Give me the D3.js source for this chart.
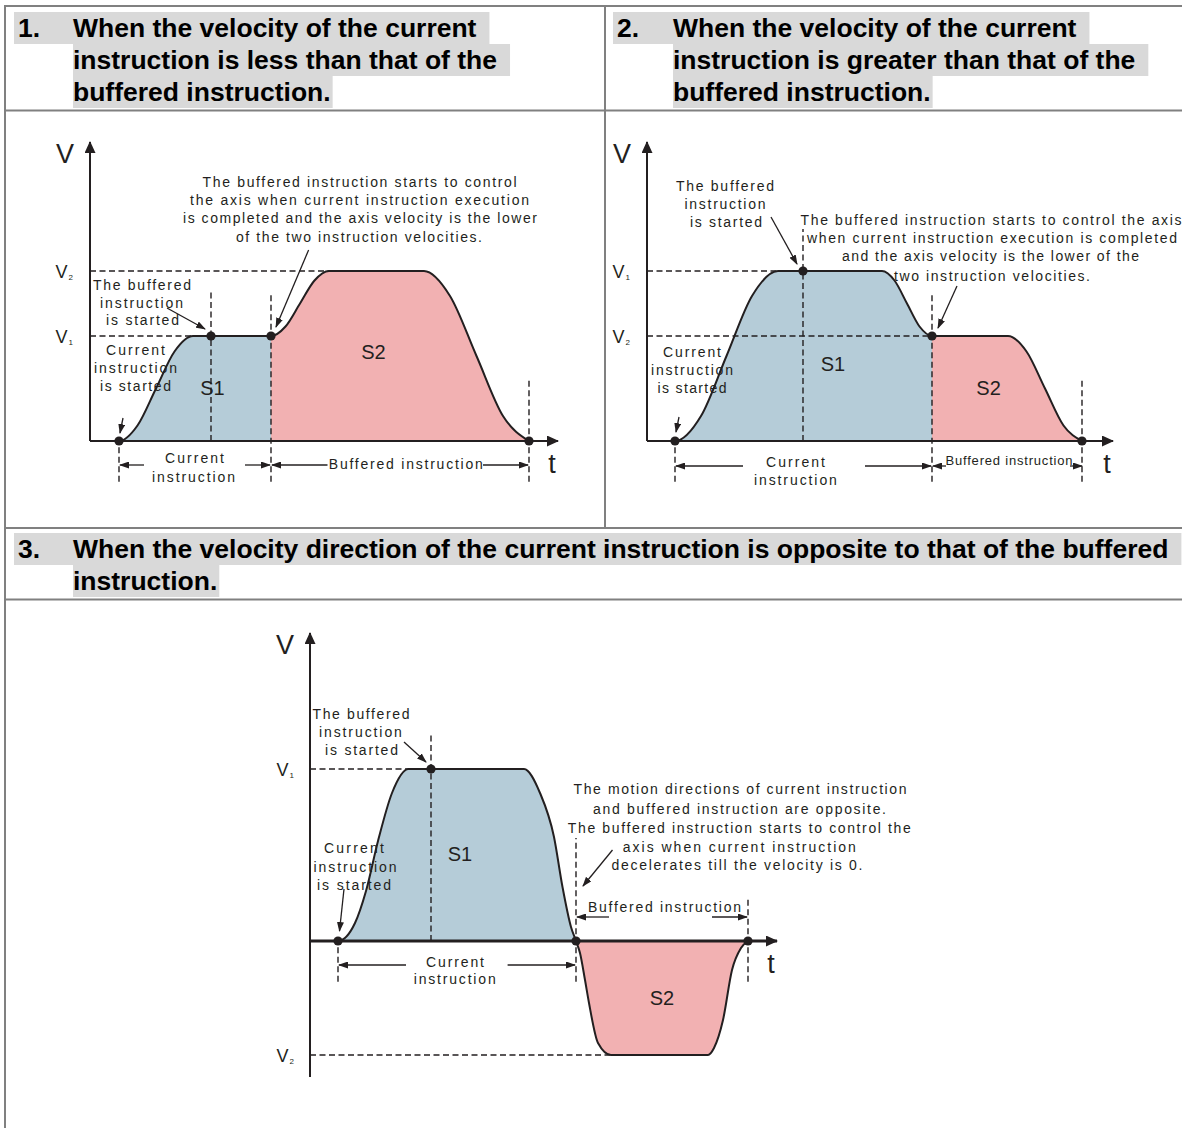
<!DOCTYPE html>
<html><head><meta charset="utf-8">
<script src="https://cdn.jsdelivr.net/npm/d3@7"></script>
<style>html,body{margin:0;padding:0;background:#fff;} svg{display:block;}</style>
</head><body>
<svg id="chart" width="1182" height="1128"></svg>
<script>
// ---------------- data ----------------
const headerNums = ["1.", "2.", "3."];
const header1 = ["When the velocity of the current", "instruction is less than that of the", "buffered instruction."];
const header2 = ["When the velocity of the current", "instruction is greater than that of the", "buffered instruction."];
const header3 = ["When the velocity direction of the current instruction is opposite to that of the buffered", "instruction."];

// Panel 1: current slower than buffered
const p1Time = [0, 2.9, 4.75, 6.6, 8.45, 10.3, 12.1, 18.1, 19.55, 21.0, 22.45, 23.9, 33.4, 36.0, 38.65, 41.3, 43.9];
const p1Vel  = [0, 0, 1.55, 5.25, 8.95, 10.5, 10.5, 10.5, 11.45, 13.75, 16.05, 17.0, 17.0, 14.5, 8.5, 2.5, 0];
const p1Levels = [10.5, 17.0];
const p1LevelNames = ["1", "2"];
const p1LevelReachIdx = [5, 11];
const p1DotIdx = [1, 6, 7, 16];
const p1SwitchIdx = 7;

// Panel 2: current faster than buffered
const p2Time = [0, 2.8, 5.4, 7.95, 10.5, 13.1, 15.6, 23.5, 24.75, 26.0, 27.25, 28.5, 36.1, 37.95, 39.8, 41.65, 43.5];
const p2Vel  = [0, 0, 2.5, 8.5, 14.5, 17.0, 17.0, 17.0, 16.05, 13.75, 11.45, 10.5, 10.5, 8.95, 5.25, 1.55, 0];
const p2Levels = [17.0, 10.5];
const p2LevelNames = ["1", "2"];
const p2LevelReachIdx = [5, 11];
const p2DotIdx = [1, 6, 11, 16];
const p2SwitchIdx = 11;

// Panel 3: opposite directions
const p3Time = [0, 2.8, 4.5, 5.6, 6.8, 8.2, 9.85, 12.1, 21.4, 23.0, 24.4, 25.25, 26.1, 26.6, 27.0, 27.5, 27.9, 28.8, 30.1, 39.8, 40.4, 41.3, 42.2, 43.1, 43.8];
const p3Vel  = [0, 0, 1.8, 5.0, 10.0, 14.8, 17.2, 17.2, 17.2, 14.8, 10.4, 5.4, 1.4, 0, -1.2, -3.9, -6.2, -10.2, -11.4, -11.4, -10.7, -7.9, -2.9, -0.7, 0];
const p3Levels = [17.2, -11.4];
const p3LevelNames = ["1", "2"];
const p3LevelReachIdx = [6, 18];
const p3DotIdx = [1, 7, 13, 24];
const p3SwitchIdx = 13;

// ---------------- drawing ----------------
const FONT = "'Liberation Sans', Arial, Helvetica, sans-serif";
const INK = "#231f20";
const BLUE = "#b5ccd8";
const PINK = "#f2b1b2";
const BORDER = "#808080";

const svg = d3.select("#chart").attr("font-family", FONT);
svg.append("rect").attr("width", 1182).attr("height", 1128).attr("fill", "#fff");
const defs = svg.append("defs");

function marker(id, w, h) {
  defs.append("marker").attr("id", id)
    .attr("viewBox", `0 0 ${w} ${h}`).attr("refX", w - 1).attr("refY", h / 2)
    .attr("markerWidth", w).attr("markerHeight", h)
    .attr("orient", "auto").attr("markerUnits", "userSpaceOnUse")
    .append("path").attr("d", `M0,0L${w},${h / 2}L0,${h}Z`).attr("fill", INK);
}
marker("axArrow", 12, 11);
marker("arrow", 10, 7);

// table borders
const tb = svg.append("g").attr("stroke", BORDER).attr("stroke-width", 2);
tb.append("line").attr("x1", 5).attr("x2", 5).attr("y1", 5).attr("y2", 1128);
tb.append("line").attr("x1", 4).attr("x2", 1182).attr("y1", 6).attr("y2", 6);
tb.append("line").attr("x1", 4).attr("x2", 1182).attr("y1", 110.5).attr("y2", 110.5);
tb.append("line").attr("x1", 605).attr("x2", 605).attr("y1", 6).attr("y2", 528);
tb.append("line").attr("x1", 4).attr("x2", 1182).attr("y1", 528).attr("y2", 528);
tb.append("line").attr("x1", 4).attr("x2", 1182).attr("y1", 599.5).attr("y2", 599.5);

// headers
function header(num, lines, numX, textX, base0) {
  const g = svg.append("g");
  const bands = g.append("g");
  const texts = g.append("g").attr("font-weight", "bold").attr("font-size", 26.5).attr("fill", "#000");
  texts.append("text").attr("x", numX).attr("y", base0).text(num);
  lines.forEach((s, i) => {
    const t = texts.append("text").attr("x", textX).attr("y", base0 + 32 * i).text(s);
    const w = t.node().getComputedTextLength();
    const last = i === lines.length - 1;
    const left = i === 0 ? numX - 4 : textX;
    bands.append("rect").attr("x", left).attr("y", base0 + 32 * i - 25)
      .attr("width", textX + w + (last ? 2 : 13) - left).attr("height", 32).attr("fill", "#d9d9d9");
  });
}
header(headerNums[0], header1, 18, 73, 37);
header(headerNums[1], header2, 617, 673, 37);
header(headerNums[2], header3, 18, 73, 558);

function drawPanel(cfg) {
  const g = svg.append("g");
  const u = 10;
  const x = d3.scaleLinear().domain([0, cfg.tEnd]).range([cfg.ox, cfg.ox + cfg.tEnd * u]);
  const y = d3.scaleLinear().domain([cfg.vBottom, cfg.vTop]).range([cfg.oy - cfg.vBottom * u, cfg.oy - cfg.vTop * u]);
  const T = cfg.time, V = cfg.vel;
  const idx = d3.range(T.length);
  const area = d3.area().x(i => x(T[i])).y0(y(0)).y1(i => y(V[i])).curve(d3.curveMonotoneX);
  const line = d3.line().x(i => x(T[i])).y(i => y(V[i])).curve(d3.curveMonotoneX);
  const sw = T[cfg.switchIdx];
  [[T[0], sw, BLUE], [sw, T[T.length - 1], PINK]].forEach(([t0, t1, col], k) => {
    const id = cfg.id + "clip" + k;
    defs.append("clipPath").attr("id", id).append("rect")
      .attr("x", x(t0)).attr("width", x(t1) - x(t0))
      .attr("y", y(cfg.vTop)).attr("height", y(cfg.vBottom) - y(cfg.vTop));
    g.append("path").attr("d", area(idx)).attr("fill", col).attr("clip-path", `url(#${id})`);
  });

  // dashed guides
  const dg = g.append("g").attr("stroke", INK).attr("stroke-width", 1.4).attr("stroke-dasharray", "6,3.5");
  cfg.levels.forEach((lv, k) => {
    dg.append("line").attr("x1", x(0)).attr("x2", x(T[cfg.levelReachIdx[k]]))
      .attr("y1", y(lv)).attr("y2", y(lv));
  });
  cfg.guides.forEach(([i, v0, v1]) => {
    dg.append("line").attr("x1", x(T[i])).attr("x2", x(T[i])).attr("y1", y(v0)).attr("y2", y(v1));
  });

  // axes lines
  g.append("line").attr("x1", x(0)).attr("x2", x(0)).attr("y1", y(cfg.yAxisFrom)).attr("y2", y(cfg.vTop))
    .attr("stroke", INK).attr("stroke-width", 2).attr("marker-end", "url(#axArrow)");
  g.append("line").attr("x1", x(0)).attr("x2", x(cfg.tEnd)).attr("y1", y(0)).attr("y2", y(0))
    .attr("stroke", INK).attr("stroke-width", cfg.xAxisW).attr("marker-end", "url(#axArrow)");

  // V level labels via d3 axis
  const ax = d3.axisLeft(y).tickValues(cfg.levels).tickSize(0).tickPadding(cfg.pad).tickFormat(() => "V");
  const ga = g.append("g").attr("transform", `translate(${x(0)},0)`).call(ax);
  ga.select(".domain").remove();
  ga.attr("font-family", FONT);
  ga.selectAll(".tick text").attr("font-size", 18).attr("fill", INK).attr("dy", "0.35em")
    .each(function (d) {
      d3.select(this).append("tspan").attr("font-size", 8).attr("dx", 1).attr("dy", 2)
        .text(cfg.levelNames[cfg.levels.indexOf(d)]);
    });

  // curve
  g.append("path").attr("d", line(idx)).attr("fill", "none").attr("stroke", INK).attr("stroke-width", 2);

  // dots
  g.selectAll("circle.dot").data(cfg.dotIdx).join("circle")
    .attr("cx", i => x(T[i])).attr("cy", i => y(V[i])).attr("r", 4.6).attr("fill", INK);

  // titles
  g.append("text").attr("x", x(0) - 25).attr("y", y(cfg.vTop) + 21).attr("text-anchor", "middle")
    .attr("font-size", 27).attr("fill", INK).text("V");
  g.append("text").attr("x", x(cfg.tEnd) - 6).attr("y", y(0) + 32).attr("text-anchor", "middle")
    .attr("font-size", 27).attr("fill", INK).text("t");

  // S labels
  cfg.sLabels.forEach(([s, cx, by]) => {
    g.append("text").attr("x", cx).attr("y", by).attr("text-anchor", "middle")
      .attr("font-size", 20).attr("fill", INK).text(s);
  });

  // annotation texts
  cfg.notes.forEach(([s, cx, by, w, fs]) => {
    const t = g.append("text").attr("x", cx).attr("y", by).attr("text-anchor", "middle")
      .attr("font-size", fs || 14).attr("fill", INK).text(s);
    if (w) t.attr("textLength", w).attr("lengthAdjust", "spacing");
  });

  // annotation arrows
  cfg.arrows.forEach(([x1, y1, x2, y2]) => {
    g.append("line").attr("x1", x1).attr("y1", y1).attr("x2", x2).attr("y2", y2)
      .attr("stroke", INK).attr("stroke-width", 1.3).attr("marker-end", "url(#arrow)");
  });
}

drawPanel({
  id: "p1", ox: 90, oy: 441, tEnd: 46.8, vTop: 29.9, vBottom: -4.07, yAxisFrom: 0, xAxisW: 2, pad: 17,
  time: p1Time, vel: p1Vel, levels: p1Levels, levelNames: p1LevelNames, levelReachIdx: p1LevelReachIdx,
  dotIdx: p1DotIdx, switchIdx: p1SwitchIdx,
  guides: [[1, -4.07, 0], [6, 0, 14.9], [7, -4.07, 14.9], [16, -4.07, 6.3]],
  sLabels: [["S1", 212.5, 395], ["S2", 373.5, 359]],
  notes: [
    ["The buffered instruction starts to control", 359.6, 187, 314],
    ["the axis when current instruction execution", 359.5, 205, 339],
    ["is completed and the axis velocity is the lower", 360, 223, 354],
    ["of the two instruction velocities.", 359, 242, 246],
    ["The buffered", 142, 290, 98],
    ["instruction", 141.5, 307.5, 83],
    ["is started", 142.5, 325, 73],
    ["Current", 135.5, 355, 59],
    ["instruction", 135.5, 373, 83],
    ["is started", 135.5, 391, 71],
    ["Current", 194.5, 463, 59],
    ["instruction", 193.5, 482, 83],
    ["Buffered instruction", 405.8, 469, 154]
  ],
  arrows: [[308.6, 250, 276, 327], [167, 308, 205, 329], [123, 418, 120, 433],
           [144, 465, 120, 465], [245, 465, 270, 465], [327.5, 465, 272, 465], [483, 465, 528, 465]]
});

drawPanel({
  id: "p2", ox: 647, oy: 441, tEnd: 46.6, vTop: 29.9, vBottom: -4.07, yAxisFrom: 0, xAxisW: 2, pad: 17,
  time: p2Time, vel: p2Vel, levels: p2Levels, levelNames: p2LevelNames, levelReachIdx: p2LevelReachIdx,
  dotIdx: p2DotIdx, switchIdx: p2SwitchIdx,
  guides: [[1, -4.07, 0], [6, 0, 21.2], [11, -4.07, 14.6], [16, -4.07, 6.3]],
  sLabels: [["S1", 833, 371], ["S2", 988.6, 395]],
  notes: [
    ["The buffered", 725, 191, 98],
    ["instruction", 725, 209, 81],
    ["is started", 726, 227, 72],
    ["The buffered instruction  starts to control the axis", 991, 225, 381],
    ["when current instruction execution is completed", 992, 243, 370],
    ["and the axis velocity is the lower of the", 990.5, 261, 297],
    ["two instruction velocities.", 992, 281, 196],
    ["Current", 692, 357, 58],
    ["instruction", 692, 375, 82],
    ["is started", 692, 393, 69],
    ["Current", 795.5, 467, 59],
    ["instruction", 795.4, 485, 83],
    ["Buffered instruction", 1009, 465, 127, 13]
  ],
  arrows: [[771, 217, 797, 264], [957, 286, 938, 328], [679, 417, 676, 432],
           [743, 466, 676, 466], [865, 466, 931, 466], [946, 466, 933, 466], [1070, 466, 1082, 466]]
});

drawPanel({
  id: "p3", ox: 310, oy: 941, tEnd: 46.7, vTop: 30.8, vBottom: -13.6, yAxisFrom: -13.6, xAxisW: 3, pad: 16,
  time: p3Time, vel: p3Vel, levels: p3Levels, levelNames: p3LevelNames, levelReachIdx: p3LevelReachIdx,
  dotIdx: p3DotIdx, switchIdx: p3SwitchIdx,
  guides: [[1, -4.07, 0], [7, 0, 20.8], [13, -4.07, 10.3], [24, -4.07, 4.4]],
  sLabels: [["S1", 460, 861], ["S2", 662, 1005]],
  notes: [
    ["The buffered", 361, 719, 97],
    ["instruction", 360.4, 737, 83],
    ["is started", 361.5, 755, 73],
    ["The motion directions of current instruction", 740, 794, 333],
    ["and buffered instruction are opposite.", 739.5, 814, 293],
    ["The buffered instruction starts to control the", 739.3, 833, 343],
    ["axis when current instruction", 739.3, 852, 233],
    ["decelerates till the velocity is 0.", 737, 870, 251],
    ["Current", 354, 853, 60],
    ["instruction", 355, 872, 83],
    ["is started", 354, 890, 74],
    ["Current", 455, 967, 58],
    ["instruction", 454.7, 984, 82],
    ["Buffered instruction", 664.5, 912, 153]
  ],
  arrows: [[404, 742, 426, 762], [612.5, 850, 583, 886], [344, 889, 339.5, 931],
           [406, 965, 339, 965], [507.6, 965, 575, 965], [609, 917, 577, 917], [712, 917, 747, 917]]
});
</script>
</body></html>
